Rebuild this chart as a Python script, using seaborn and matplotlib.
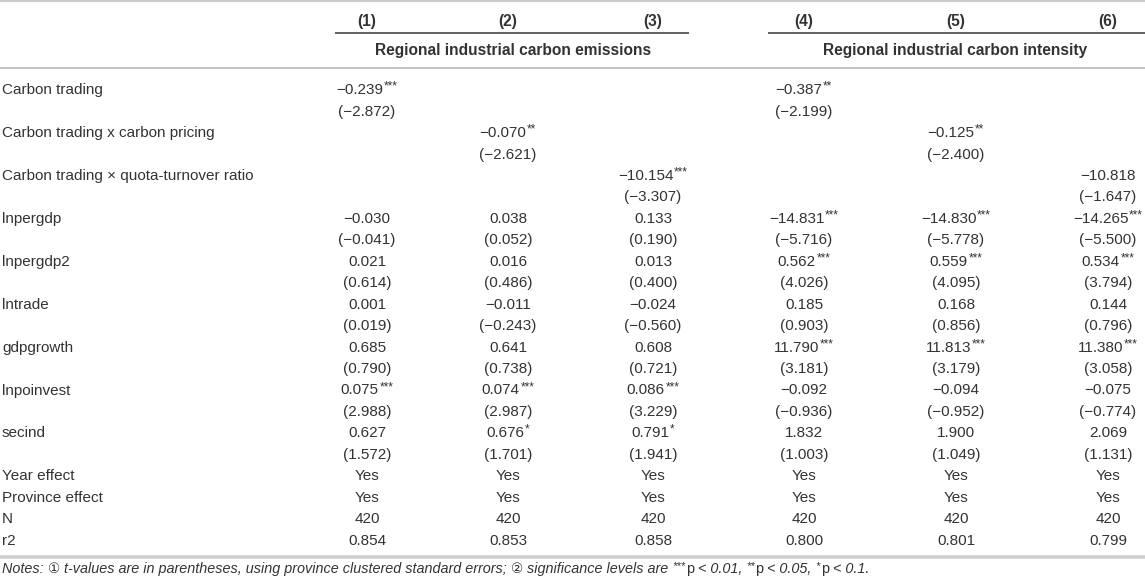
import matplotlib
matplotlib.use("Agg")
import matplotlib.pyplot as plt
import seaborn as sns

# ---------------- data ----------------
column_headers = ["(1)", "(2)", "(3)", "(4)", "(5)", "(6)"]
group_headers = ["Regional industrial carbon emissions", "Regional industrial carbon intensity"]
variables = ["Carbon trading", "Carbon trading x carbon pricing",
             "Carbon trading \u00d7 quota-turnover ratio", "lnpergdp", "lnpergdp2",
             "lntrade", "gdpgrowth", "lnpoinvest", "secind"]

coef_c1 = [-0.239, None, None, -0.030, 0.021, 0.001, 0.685, 0.075, 0.627]
t_c1 = [-2.872, None, None, -0.041, 0.614, 0.019, 0.790, 2.988, 1.572]
stars_c1 = [3, 0, 0, 0, 0, 0, 0, 3, 0]

coef_c2 = [None, -0.070, None, 0.038, 0.016, -0.011, 0.641, 0.074, 0.676]
t_c2 = [None, -2.621, None, 0.052, 0.486, -0.243, 0.738, 2.987, 1.701]
stars_c2 = [0, 2, 0, 0, 0, 0, 0, 3, 1]

coef_c3 = [None, None, -10.154, 0.133, 0.013, -0.024, 0.608, 0.086, 0.791]
t_c3 = [None, None, -3.307, 0.190, 0.400, -0.560, 0.721, 3.229, 1.941]
stars_c3 = [0, 0, 3, 0, 0, 0, 0, 3, 1]

coef_c4 = [-0.387, None, None, -14.831, 0.562, 0.185, 11.790, -0.092, 1.832]
t_c4 = [-2.199, None, None, -5.716, 4.026, 0.903, 3.181, -0.936, 1.003]
stars_c4 = [2, 0, 0, 3, 3, 0, 3, 0, 0]

coef_c5 = [None, -0.125, None, -14.830, 0.559, 0.168, 11.813, -0.094, 1.900]
t_c5 = [None, -2.400, None, -5.778, 4.095, 0.856, 3.179, -0.952, 1.049]
stars_c5 = [0, 2, 0, 3, 3, 0, 3, 0, 0]

coef_c6 = [None, None, -10.818, -14.265, 0.534, 0.144, 11.380, -0.075, 2.069]
t_c6 = [None, None, -1.647, -5.500, 3.794, 0.796, 3.058, -0.774, 1.131]
stars_c6 = [0, 0, 0, 3, 3, 0, 3, 0, 0]

effect_labels = ["Year effect", "Province effect"]
effect_values = ["Yes", "Yes", "Yes", "Yes", "Yes", "Yes"]
n_obs = [420, 420, 420, 420, 420, 420]
r2_values = [0.854, 0.853, 0.858, 0.800, 0.801, 0.799]

coefs = [coef_c1, coef_c2, coef_c3, coef_c4, coef_c5, coef_c6]
tvals = [t_c1, t_c2, t_c3, t_c4, t_c5, t_c6]
stars = [stars_c1, stars_c2, stars_c3, stars_c4, stars_c5, stars_c6]

# ---------------- layout ----------------
sns.set_theme(style="white")
plt.rcParams["font.family"] = ["Liberation Sans", "DejaVu Sans"]

W, H = 1145, 583
fig = plt.figure(figsize=(W / 100, H / 100), dpi=100)
ax = fig.add_axes([0, 0, 1, 1])
ax.set_xlim(0, W)
ax.set_ylim(H, 0)
ax.axis("off")

TXT = "#333333"
FS = 11.0
BFS = 11.2
NFS = 10.35
SFS = 8.5
col_x = [367, 508, 653, 804, 956, 1108]
group_x = [513, 955]
y0, dy = 89, 21.45
BASE = 5.2
SUP = -4.5

fig.canvas.draw()
renderer = fig.canvas.get_renderer()


def fmt(v):
    s = "%.3f" % abs(v)
    return ("\u2212" + s) if v < 0 else s


def width_of(t):
    return t.get_window_extent(renderer=renderer).width


def draw_segments(x, y, segments, ha="center"):
    """segments: list of (text, kwargs, yshift, extra_gap)"""
    objs = []
    for txt, kw, ysh, gap in segments:
        o = ax.text(0, y + ysh, txt, va="baseline", ha="left", color=TXT, **kw)
        objs.append((o, gap))
    widths = [width_of(o) + g for o, g in objs]
    total = sum(widths)
    left = x - total / 2 if ha == "center" else x
    for (o, g), w in zip(objs, widths):
        o.set_x(left + g)
        left += w


def cell(x, yc, main, n):
    segs = [(main, dict(fontsize=FS), 0, 0)]
    if n:
        segs.append(("*" * n, dict(fontsize=SFS), SUP, 0.5))
    draw_segments(x, yc + BASE, segs)


# rules
ax.plot([0, W], [1, 1], color="#cccccc", lw=1.5, solid_capstyle="butt")
ax.plot([335, 689], [33, 33], color="#555555", lw=1.3, solid_capstyle="butt")
ax.plot([768, W], [33, 33], color="#555555", lw=1.3, solid_capstyle="butt")
ax.plot([0, W], [68, 68], color="#bdbdbd", lw=1.3, solid_capstyle="butt")
ax.plot([0, W], [557, 557], color="#cfcfcf", lw=2.6, solid_capstyle="butt")

# headers
for x, h in zip(col_x, column_headers):
    ax.text(x, 21 + BASE, h, ha="center", va="baseline", fontsize=BFS,
            fontweight="bold", color=TXT)
for x, g in zip(group_x, group_headers):
    ax.text(x, 50 + BASE, g, ha="center", va="baseline", fontsize=BFS,
            fontweight="bold", color=TXT)

# body
row = 0
for i, var in enumerate(variables):
    yc = y0 + dy * row
    ax.text(2, yc + BASE, var, ha="left", va="baseline", fontsize=FS, color=TXT)
    for j in range(6):
        c = coefs[j][i]
        if c is not None:
            cell(col_x[j], yc, fmt(c), stars[j][i])
            cell(col_x[j], yc + dy, "(" + fmt(tvals[j][i]) + ")", 0)
    row += 2

for lab in effect_labels:
    yc = y0 + dy * row
    ax.text(2, yc + BASE, lab, ha="left", va="baseline", fontsize=FS, color=TXT)
    for j in range(6):
        cell(col_x[j], yc, effect_values[j], 0)
    row += 1

yc = y0 + dy * row
ax.text(2, yc + BASE, "N", ha="left", va="baseline", fontsize=FS, color=TXT)
for j in range(6):
    cell(col_x[j], yc, str(n_obs[j]), 0)
row += 1

yc = y0 + dy * row
ax.text(2, yc + BASE, "r2", ha="left", va="baseline", fontsize=FS, color=TXT)
for j in range(6):
    cell(col_x[j], yc, "%.3f" % r2_values[j], 0)

# notes
it = dict(fontsize=NFS, style="italic")
up = dict(fontsize=NFS)
circ = dict(fontsize=NFS - 0.5, family="DejaVu Sans")
sup = dict(fontsize=SFS - 0.5, style="italic")
note_segments = [
    ("Notes: ", it, 0, 0), ("\u2460", circ, 0, 0),
    (" t-values are in parentheses, using province clustered standard errors; ", it, 0, 0),
    ("\u2461", circ, 0, 0), (" significance levels are ", it, 0, 0),
    ("***", sup, SUP, 0), ("p", up, 0, 0.5), (" < 0.01, ", it, 0, 0),
    ("**", sup, SUP, 0), ("p", up, 0, 0.5), (" < 0.05, ", it, 0, 0),
    ("*", sup, SUP, 0), ("p", up, 0, 0.5), (" < 0.1.", it, 0, 0),
]
draw_segments(2, 568 + BASE, note_segments, ha="left")

fig.savefig("out.png", dpi=100)
